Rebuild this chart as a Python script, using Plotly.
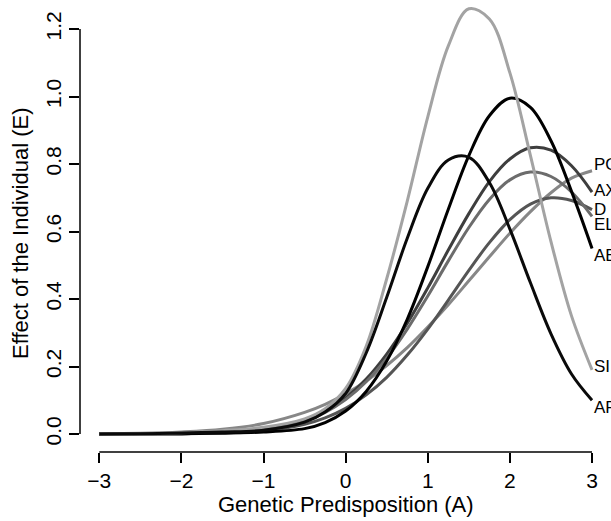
import plotly.graph_objects as go

# Genetic predisposition grid (A)
A = [-3, -2.5, -2, -1.5, -1, -0.5, -0.25, 0, 0.25, 0.5, 0.75, 1,
     1.25, 1.5, 1.75, 2, 2.25, 2.5, 2.75, 3]

# Effect of the individual (E) per group
SI = [0, 0.001, 0.004, 0.01, 0.02, 0.045, 0.075, 0.135, 0.26, 0.46, 0.69, 0.94,
      1.15, 1.26, 1.23, 1.07, 0.825, 0.57, 0.35, 0.19]
AP = [0, 0.001, 0.003, 0.006, 0.011, 0.035, 0.065, 0.12, 0.24, 0.405, 0.58, 0.728,
      0.812, 0.82, 0.745, 0.607, 0.448, 0.297, 0.178, 0.10]
AB = [0, 0.0005, 0.001, 0.003, 0.006, 0.016, 0.034, 0.068, 0.126, 0.216, 0.34, 0.496,
      0.666, 0.825, 0.943, 0.995, 0.968, 0.869, 0.719, 0.55]
AX = [0, 0.0005, 0.001, 0.003, 0.012, 0.040, 0.067, 0.107, 0.163, 0.237, 0.328, 0.433,
      0.545, 0.653, 0.748, 0.815, 0.848, 0.841, 0.795, 0.717]
EL = [0, 0.0005, 0.001, 0.003, 0.012, 0.038, 0.064, 0.102, 0.155, 0.225, 0.311, 0.409,
      0.513, 0.612, 0.695, 0.753, 0.776, 0.763, 0.717, 0.645]
D = [0, 0.0005, 0.001, 0.0025, 0.009, 0.029, 0.048, 0.076, 0.116, 0.168, 0.234, 0.311,
     0.397, 0.485, 0.567, 0.635, 0.681, 0.70, 0.692, 0.665]
PO = [0.001, 0.002, 0.006, 0.014, 0.031, 0.064, 0.088, 0.119, 0.157, 0.203, 0.256, 0.317,
      0.383, 0.454, 0.525, 0.595, 0.659, 0.715, 0.758, 0.78]

names = ["PO", "AX", "D", "EL", "AB", "SI", "AP"]
series = [PO, AX, D, EL, AB, SI, AP]
colors = ["#878787", "#3e3e3e", "#555555", "#6c6c6c", "#000000", "#a3a3a3", "#0a0a0a"]
label_nudge = [6, 2, 0, -8, -7, 3, -7]  # px vertical nudge of end labels

x_ticks = [-3, -2, -1, 0, 1, 2, 3]
y_ticks = [0.0, 0.2, 0.4, 0.6, 0.8, 1.0, 1.2]

FONT = "Liberation Sans, Arial, Helvetica, sans-serif"

fig = go.Figure()
for n, s, c in zip(names, series, colors):
    fig.add_trace(go.Scatter(x=A, y=s, mode="lines", name=n,
                             line=dict(color=c, width=3, shape="spline", smoothing=1.0),
                             showlegend=False, hoverinfo="skip"))

for n, s, dy in zip(names, series, label_nudge):
    fig.add_annotation(x=A[-1], y=s[-1], text=n, showarrow=False,
                       xanchor="left", yanchor="middle", xshift=0, yshift=dy,
                       font=dict(family=FONT, size=17, color="black"))

# R-style axis lines spanning only the tick range
fig.add_shape(type="line", xref="x", yref="paper", x0=x_ticks[0], x1=x_ticks[-1],
              y0=0, y1=0, line=dict(color="black", width=1.5))
fig.add_shape(type="line", xref="paper", yref="y", x0=0, x1=0,
              y0=y_ticks[0], y1=y_ticks[-1], line=dict(color="black", width=1.5))

fig.add_annotation(x=0.5, y=-0.117, xref="paper", yref="paper",
                   text="Genetic Predisposition (A)", showarrow=False,
                   xanchor="center", yanchor="middle",
                   font=dict(family=FONT, size=22, color="black"))
fig.add_annotation(x=-0.113, y=0.4845, xref="paper", yref="paper",
                   text="Effect of the Individual (E)", showarrow=False, textangle=-90,
                   xanchor="center", yanchor="middle",
                   font=dict(family=FONT, size=22, color="black"))

fig.update_xaxes(range=[-3.235, 3.231], tickvals=x_ticks, ticks="outside", ticklen=10,
                 tickwidth=1.5, tickcolor="black", showgrid=False, zeroline=False,
                 showline=False, automargin=False,
                 tickfont=dict(family=FONT, size=21, color="black"))
fig.update_yaxes(range=[-0.0533, 1.286], tickvals=y_ticks, tickformat=".1f",
                 ticks="outside", ticklen=10, tickwidth=1.5, tickcolor="black",
                 showgrid=False, zeroline=False, showline=False, tickangle=-90,
                 automargin=False,
                 tickfont=dict(family=FONT, size=21, color="black"))

fig.update_layout(width=611, height=521, margin=dict(l=80, r=0, t=0, b=69),
                  paper_bgcolor="white", plot_bgcolor="white")

fig.write_html("out.html", config={"displayModeBar": False},
               post_script="document.body.style.margin='0';document.body.style.overflow='hidden';")
